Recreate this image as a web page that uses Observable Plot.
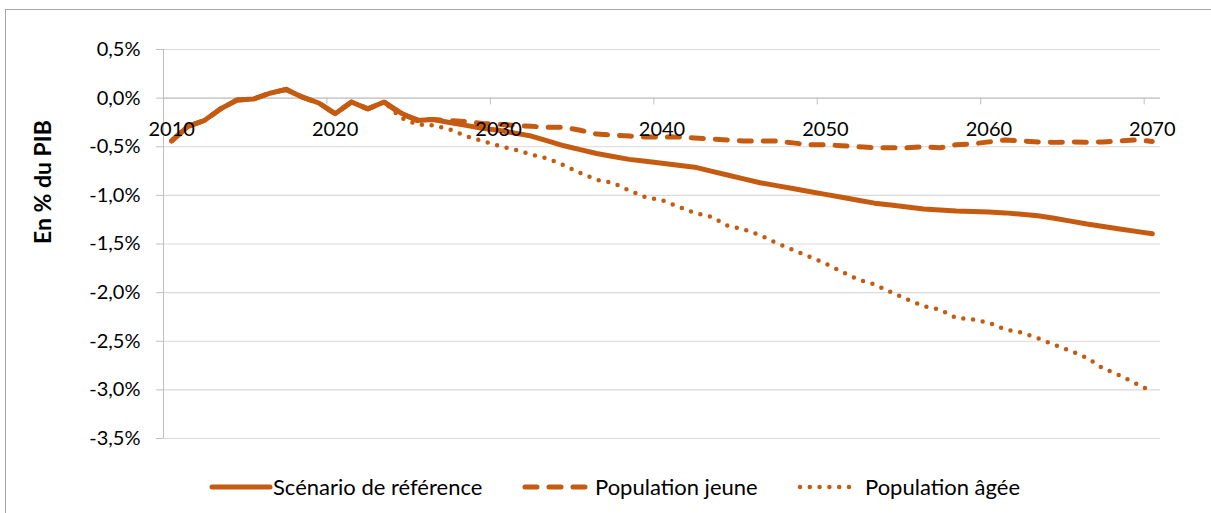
<!DOCTYPE html>
<html lang="fr">
<head>
<meta charset="utf-8">
<script src="https://cdn.jsdelivr.net/npm/d3@7"></script>
<script src="https://cdn.jsdelivr.net/npm/@observablehq/plot@0.6"></script>
<style>
  html, body { margin: 0; padding: 0; background: #fff; }
  body { width: 1211px; height: 513px; position: relative; overflow: hidden; font-family: Lato, "Open Sans", sans-serif; }
  #frame { position: absolute; left: 5px; top: 9px; width: 1210px; height: 510px;
           border-top: 1px solid #a6a6a6; border-left: 1px solid #a6a6a6; }
  #chart { position: absolute; left: 0; top: 0; }
  #legend { position: absolute; left: 0; top: 470px; width: 1211px; height: 36px; }
  .swatch { position: absolute; top: 7px; display: block; }
  .label { position: absolute; top: 0; height: 34px; line-height: 34px; font-size: 22px; color: #000; white-space: nowrap; }
</style>
</head>
<body>
<div id="frame"></div>
<div id="chart"></div>
<div id="legend"></div>
<script>
// Solde en % du PIB, 2010-2070, selon trois scénarios démographiques
const years = [
  2010, 2011, 2012, 2013, 2014, 2015, 2016, 2017, 2018, 2019,
  2020, 2021, 2022, 2023, 2024, 2025, 2026, 2027, 2028, 2029,
  2030, 2031, 2032, 2033, 2034, 2035, 2036, 2037, 2038, 2039,
  2040, 2041, 2042, 2043, 2044, 2045, 2046, 2047, 2048, 2049,
  2050, 2051, 2052, 2053, 2054, 2055, 2056, 2057, 2058, 2059,
  2060, 2061, 2062, 2063, 2064, 2065, 2066, 2067, 2068, 2069,
  2070
];

const scenarioReference = [
  -0.44, -0.29, -0.23, -0.11, -0.02, -0.01, 0.05, 0.09, 0.01, -0.05,
  -0.16, -0.04, -0.11, -0.04, -0.15, -0.23, -0.22, -0.25, -0.28, -0.31,
  -0.33, -0.36, -0.39, -0.44, -0.49, -0.53, -0.57, -0.60, -0.63, -0.65,
  -0.67, -0.69, -0.71, -0.75, -0.79, -0.83, -0.87, -0.90, -0.93, -0.96,
  -0.99, -1.02, -1.05, -1.08, -1.10, -1.12, -1.14, -1.15, -1.16, -1.165,
  -1.17, -1.18, -1.195, -1.21, -1.235, -1.265, -1.295, -1.32, -1.345, -1.37,
  -1.395
];

const populationJeune = [
  -0.44, -0.29, -0.23, -0.11, -0.02, -0.01, 0.05, 0.09, 0.01, -0.05,
  -0.16, -0.04, -0.11, -0.04, -0.16, -0.22, -0.22, -0.23, -0.24, -0.26,
  -0.27, -0.28, -0.29, -0.30, -0.30, -0.33, -0.37, -0.38, -0.39, -0.40,
  -0.40, -0.40, -0.41, -0.42, -0.43, -0.44, -0.44, -0.44, -0.46, -0.48,
  -0.48, -0.49, -0.50, -0.51, -0.51, -0.51, -0.50, -0.51, -0.48, -0.47,
  -0.45, -0.43, -0.44, -0.45, -0.455, -0.45, -0.455, -0.45, -0.44, -0.43,
  -0.445
];

const populationAgee = [
  -0.44, -0.29, -0.23, -0.11, -0.02, -0.01, 0.05, 0.09, 0.01, -0.05,
  -0.16, -0.04, -0.11, -0.04, -0.20, -0.27, -0.28, -0.32, -0.39, -0.44,
  -0.49, -0.53, -0.58, -0.62, -0.69, -0.77, -0.84, -0.87, -0.95, -1.02,
  -1.05, -1.115, -1.18, -1.22, -1.31, -1.35, -1.41, -1.49, -1.56, -1.63,
  -1.70, -1.785, -1.865, -1.915, -1.995, -2.07, -2.14, -2.175, -2.26, -2.275,
  -2.31, -2.38, -2.41, -2.47, -2.535, -2.60, -2.67, -2.78, -2.85, -2.935,
  -3.02
];

const seriesNames = ["Scénario de référence", "Population jeune", "Population âgée"];
const yTicks = [0.5, 0, -0.5, -1, -1.5, -2, -2.5, -3, -3.5];
const xLabels = [2010, 2020, 2030, 2040, 2050, 2060, 2070];
// category boundaries where the x-axis tick marks sit
const xTickMarks = [2009.5, 2019.5, 2029.5, 2039.5, 2049.5, 2059.5, 2069.5];
const yTitle = "En % du PIB";

const orange = "#c55a11";
const fmtPct = d => d.toFixed(1).replace(".", ",") + "%";

const rows = (values) => years.map((year, i) => ({year, value: values[i]}));

const lineStyles = [
  {strokeWidth: 5, strokeDasharray: null},
  {strokeWidth: 5, strokeDasharray: "12,12"},
  {strokeWidth: 4.5, strokeDasharray: "0,9.8"}
];

const chart = Plot.plot({
  width: 1211,
  height: 470,
  marginLeft: 163,
  marginRight: 51,
  marginTop: 49,
  marginBottom: 32,
  style: {fontFamily: "Lato, 'Open Sans', sans-serif", fontSize: "20px", color: "#000", background: "transparent", overflow: "visible"},
  x: {domain: [2009.5, 2070.5], axis: null},
  y: {domain: [-3.5, 0.5], axis: null},
  marks: [
    Plot.gridY(yTicks, {stroke: "#d9d9d9", strokeOpacity: 1, strokeWidth: 1.2}),
    Plot.axisY(yTicks, {tickFormat: fmtPct, tickSize: 7, tickPadding: 16, label: null, stroke: "#bfbfbf", strokeOpacity: 1, fill: "#000"}),
    Plot.ruleX([2009.5], {stroke: "#bfbfbf"}),
    Plot.ruleY([0], {stroke: "#bfbfbf"}),
    Plot.ruleX(xTickMarks, {x: d => d, y1: 0, y2: -0.07, stroke: "#bfbfbf"}),
    Plot.line(rows(scenarioReference), {x: "year", y: "value", stroke: orange, ...lineStyles[0], strokeLinecap: "round", strokeLinejoin: "round"}),
    Plot.line(rows(populationJeune), {x: "year", y: "value", stroke: orange, ...lineStyles[1], strokeLinecap: "round", strokeLinejoin: "round"}),
    Plot.line(rows(populationAgee), {x: "year", y: "value", stroke: orange, ...lineStyles[2], strokeLinecap: "round", strokeLinejoin: "round"}),
    Plot.text(xLabels, {x: d => d, y: 0, dy: 31, text: d => String(d), fill: "#000"}),
    Plot.text([yTitle], {frameAnchor: "left", dx: -120, rotate: -90, text: d => d, fontWeight: "bold", fontSize: 23, fill: "#000"})
  ]
});
document.getElementById("chart").append(chart);

// Legend below the plot: swatch span and label start for each series
const swatchX = [[212, 270], [525, 590], [800, 856]];
const labelX = [273, 595, 865];
const legend = document.getElementById("legend");
seriesNames.forEach((name, i) => {
  const [x0, x1] = swatchX[i];
  const style = lineStyles[i];
  const ns = "http://www.w3.org/2000/svg";
  const svg = document.createElementNS(ns, "svg");
  svg.setAttribute("class", "swatch");
  svg.setAttribute("width", x1 - x0 + 6);
  svg.setAttribute("height", 20);
  svg.style.left = (x0 - 3) + "px";
  const line = document.createElementNS(ns, "line");
  line.setAttribute("x1", 3 + (style.strokeDasharray ? 0 : 0));
  line.setAttribute("x2", x1 - x0 + 3);
  line.setAttribute("y1", 10);
  line.setAttribute("y2", 10);
  line.setAttribute("stroke", orange);
  line.setAttribute("stroke-width", style.strokeWidth);
  line.setAttribute("stroke-linecap", "round");
  if (style.strokeDasharray) line.setAttribute("stroke-dasharray", style.strokeDasharray);
  svg.append(line);
  legend.append(svg);
  const label = document.createElement("div");
  label.className = "label";
  label.style.left = labelX[i] + "px";
  label.textContent = name;
  legend.append(label);
});
</script>
</body>
</html>
